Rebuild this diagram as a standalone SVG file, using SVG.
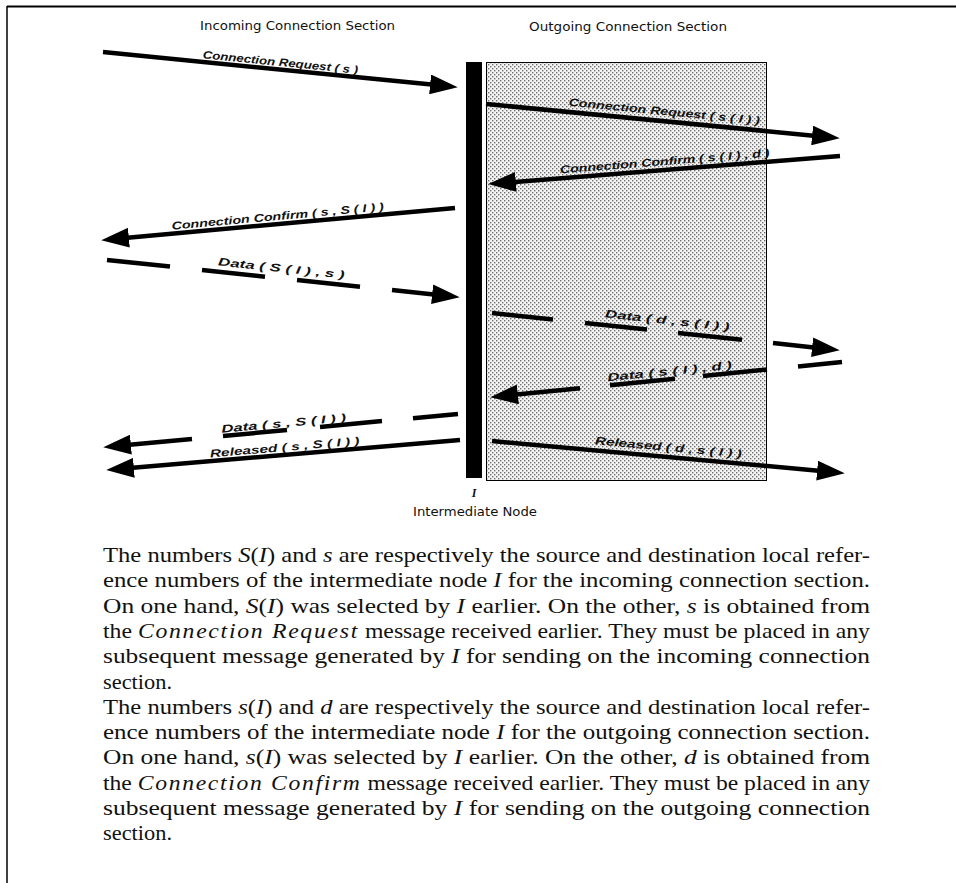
<svg xmlns="http://www.w3.org/2000/svg" width="956" height="883" viewBox="0 0 956 883">
  <style>
    .hdr { font-family: "DejaVu Sans", "Liberation Sans", sans-serif; font-size: 11.5px; fill: #111; }
    .lbl { font-family: "Liberation Sans", "DejaVu Sans", sans-serif; font-size: 11px; font-style: italic; font-weight: bold; fill: #111; text-anchor: middle; }
    .msg { fill: none; stroke: #000; stroke-width: 4.5; stroke-linecap: butt; marker-end: url(#head); }
    .body { font-family: "Liberation Serif", "DejaVu Serif", serif; font-size: 21px; fill: #111; }
    .it { font-style: italic; }
    .wide { font-style: italic; letter-spacing: 1.5px; }
  </style>
  <defs>
    <marker id="head" viewBox="0 0 28 20" markerWidth="6.2" markerHeight="4.4" refX="4" refY="10" orient="auto" markerUnits="strokeWidth">
      <path d="M0,0 L28,10 L0,20 Z" fill="#000"/>
    </marker>
    <pattern id="dots" width="4" height="4" patternUnits="userSpaceOnUse">
      <rect width="4" height="4" fill="#f4f4f4"/>
      <rect x="0" y="0" width="1.4" height="1.4" fill="#707070"/>
      <rect x="2" y="2" width="1.4" height="1.4" fill="#707070"/>
    </pattern>
  </defs>

  <!-- page frame -->
  <g id="frame" stroke="#000" fill="none">
    <line x1="7" y1="6.5" x2="956" y2="6.5" stroke-width="2"/>
    <line x1="7" y1="6" x2="7" y2="883" stroke-width="1.5"/>
  </g>

  <!-- section headings -->
  <g id="headings">
    <text class="hdr" x="200" y="30" textLength="195" lengthAdjust="spacingAndGlyphs">Incoming Connection Section</text>
    <text class="hdr" x="529" y="31" textLength="198" lengthAdjust="spacingAndGlyphs">Outgoing Connection Section</text>
  </g>

  <!-- outgoing section area -->
  <g id="outgoing-section">
    <rect x="486.5" y="62.5" width="280" height="418" fill="url(#dots)" stroke="#000" stroke-width="1"/>
  </g>

  <!-- intermediate node I -->
  <g id="node-I">
    <rect x="466" y="62" width="16" height="416" fill="#000"/>
    <text x="474" y="497" font-family="Liberation Serif, serif" font-size="12" font-style="italic" font-weight="bold" text-anchor="middle" fill="#111">I</text>
    <text class="hdr" x="413" y="516" textLength="124" lengthAdjust="spacingAndGlyphs">Intermediate Node</text>
  </g>

  <!-- messages -->
  <g id="connectors">
    <path class="msg" d="M103,52 L434.1,84.8"/>
    <path class="msg" d="M486,104 L816.1,135.9"/>
    <path class="msg" d="M840,156 L511.9,182.2"/>
    <path class="msg" d="M455,208 L124.9,238"/>
    <path class="msg" d="M107,260 L170,266.6 M202,270 L265,276.7 M297,280 L360,286.7 M392,290 L436.1,294.7"/>
    <path class="msg" d="M492,313 L553,319.5 M585,322.9 L647,329.6 M678,332.9 L742,339.7 M773,343 L816.1,347.7"/>
    <path class="msg" d="M842,362 L798,366.4 M767,369.5 L703,375.9 M675,378.7 L610,385.2 M580,388.2 L513.9,394.8"/>
    <path class="msg" d="M458,414 L413,418.2 M382,421.1 L320,426.9 M287,430 L223,436 M192,438.9 L126.9,445"/>
    <path class="msg" d="M460,440 L129.9,468.1"/>
    <path class="msg" d="M492,441 L821.1,471"/>
  </g>

  <!-- message labels -->
  <g id="labels">
    <text class="lbl" transform="translate(280,66) rotate(5.7)" textLength="156" lengthAdjust="spacingAndGlyphs">Connection Request ( s )</text>
    <text class="lbl" transform="translate(664,115) rotate(5.5)" textLength="192" lengthAdjust="spacingAndGlyphs">Connection Request ( s ( I ) )</text>
    <text class="lbl" transform="translate(665,165) rotate(-4.6)" textLength="210" lengthAdjust="spacingAndGlyphs">Connection Confirm ( s ( I ) , d )</text>
    <text class="lbl" transform="translate(278,220) rotate(-5.2)" textLength="213" lengthAdjust="spacingAndGlyphs">Connection Confirm ( s , S ( I ) )</text>
    <text class="lbl" transform="translate(281,272) rotate(6)" textLength="127" lengthAdjust="spacingAndGlyphs">Data ( S ( I ) , s )</text>
    <text class="lbl" transform="translate(667,324) rotate(6.1)" textLength="125" lengthAdjust="spacingAndGlyphs">Data ( d , s ( I ) )</text>
    <text class="lbl" transform="translate(670,375) rotate(-5.7)" textLength="125" lengthAdjust="spacingAndGlyphs">Data ( s ( I ) , d )</text>
    <text class="lbl" transform="translate(284,427) rotate(-5.3)" textLength="125" lengthAdjust="spacingAndGlyphs">Data ( s , S ( I ) )</text>
    <text class="lbl" transform="translate(285,451) rotate(-4.9)" textLength="150" lengthAdjust="spacingAndGlyphs">Released ( s , S ( I ) )</text>
    <text class="lbl" transform="translate(668,451) rotate(5.2)" textLength="147" lengthAdjust="spacingAndGlyphs">Released ( d , s ( I ) )</text>
  </g>

  <!-- explanatory text -->
  <g id="caption" class="body">
    <text x="103" y="562" textLength="767" lengthAdjust="spacingAndGlyphs">The numbers <tspan class="it">S</tspan>(<tspan class="it">I</tspan>) and <tspan class="it">s</tspan> are respectively the source and destination local refer-</text>
    <text x="103" y="587.3" textLength="767" lengthAdjust="spacingAndGlyphs">ence numbers of the intermediate node <tspan class="it">I</tspan> for the incoming connection section.</text>
    <text x="103" y="612.6" textLength="767" lengthAdjust="spacingAndGlyphs">On one hand, <tspan class="it">S</tspan>(<tspan class="it">I</tspan>) was selected by <tspan class="it">I</tspan> earlier. On the other, <tspan class="it">s</tspan> is obtained from</text>
    <text x="103" y="637.9" textLength="767" lengthAdjust="spacingAndGlyphs">the <tspan class="wide">Connection Request</tspan> message received earlier. They must be placed in any</text>
    <text x="103" y="663.2" textLength="767" lengthAdjust="spacingAndGlyphs">subsequent message generated by <tspan class="it">I</tspan> for sending on the incoming connection</text>
    <text x="103" y="688.5" textLength="69" lengthAdjust="spacingAndGlyphs">section.</text>
    <text x="103" y="713.8" textLength="767" lengthAdjust="spacingAndGlyphs">The numbers <tspan class="it">s</tspan>(<tspan class="it">I</tspan>) and <tspan class="it">d</tspan> are respectively the source and destination local refer-</text>
    <text x="103" y="739.1" textLength="767" lengthAdjust="spacingAndGlyphs">ence numbers of the intermediate node <tspan class="it">I</tspan> for the outgoing connection section.</text>
    <text x="103" y="764.4" textLength="767" lengthAdjust="spacingAndGlyphs">On one hand, <tspan class="it">s</tspan>(<tspan class="it">I</tspan>) was selected by <tspan class="it">I</tspan> earlier. On the other, <tspan class="it">d</tspan> is obtained from</text>
    <text x="103" y="789.7" textLength="767" lengthAdjust="spacingAndGlyphs">the <tspan class="wide">Connection Confirm</tspan> message received earlier. They must be placed in any</text>
    <text x="103" y="815" textLength="767" lengthAdjust="spacingAndGlyphs">subsequent message generated by <tspan class="it">I</tspan> for sending on the outgoing connection</text>
    <text x="103" y="840.3" textLength="69" lengthAdjust="spacingAndGlyphs">section.</text>
  </g>
</svg>
